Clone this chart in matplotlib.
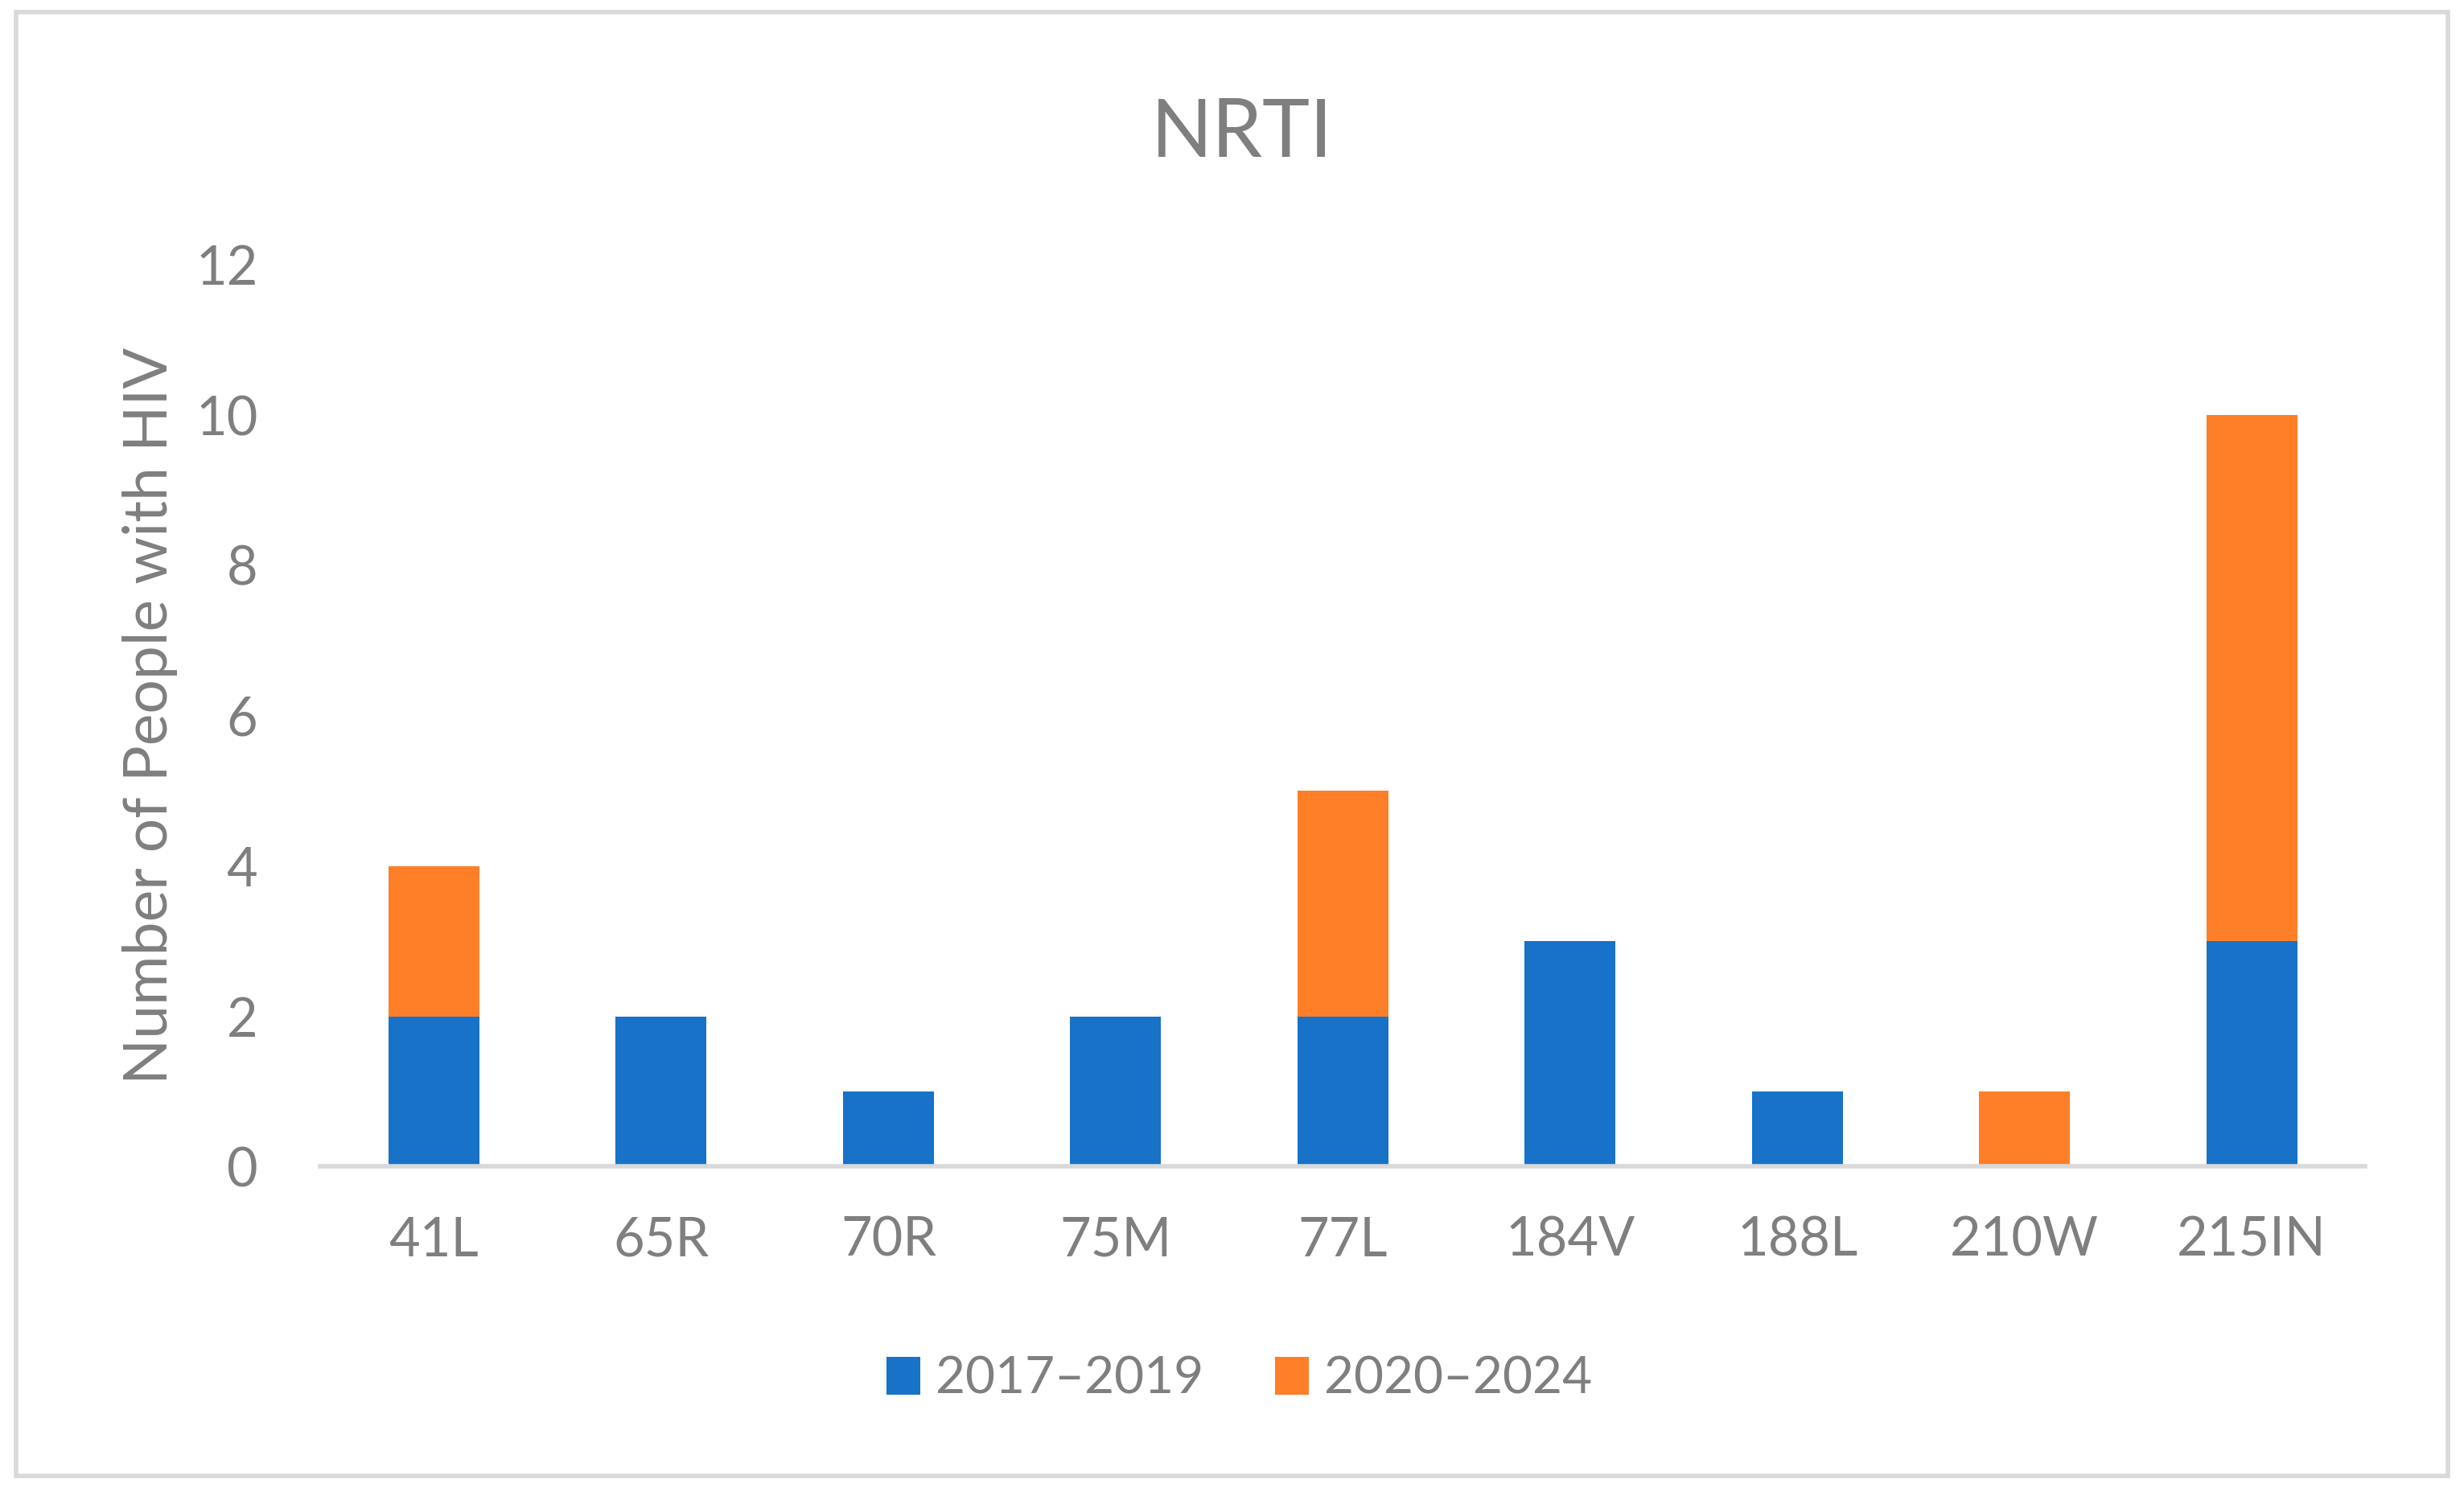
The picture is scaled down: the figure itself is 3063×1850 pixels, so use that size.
import matplotlib.pyplot as plt
from matplotlib.patches import Rectangle
import numpy as np

plt.rcParams['font.family'] = ['Lato', 'DejaVu Sans']

# data
mutations = ['41L', '65R', '70R', '75M', '77L', '184V', '188L', '210W', '215IN']
early = [2, 2, 1, 2, 2, 3, 1, 0, 3]   # 2017–2019
late = [2, 0, 0, 0, 3, 0, 0, 1, 7]    # 2020–2024
series_names = ['2017\u20132019', '2020\u20132024']

blue = '#1772C8'
orange = '#FE7F27'
grey = '#7F7F7F'

fig = plt.figure(figsize=(15.315, 9.25), dpi=200)
ax = fig.add_axes([0.130, 0.216, 0.830, 0.606])

x = np.arange(len(mutations))
ax.bar(x, early, width=0.4, color=blue, label=series_names[0])
ax.bar(x, late, width=0.4, bottom=early, color=orange, label=series_names[1])

ax.set_xlim(-0.5, len(mutations) - 0.5)
ax.set_ylim(0, 12)
ax.set_yticks(range(0, 13, 2))
ax.set_xticks(x)
ax.set_xticklabels(mutations)
ax.tick_params(length=0, labelsize=24, colors=grey)
ax.tick_params(axis='x', pad=22)
ax.tick_params(axis='y', pad=28)

for s in ['top', 'right', 'left']:
    ax.spines[s].set_visible(False)
ax.spines['bottom'].set_color('#D9D9D9')
ax.spines['bottom'].set_linewidth(2)

ax.set_ylabel('Number of People with HIV', fontsize=27, color=grey, labelpad=8)
fig.text(0.504, 0.91, 'NRTI', ha='center', va='center', fontsize=36, color=grey)

leg = fig.legend(loc='center', bbox_to_anchor=(0.503, 0.073), ncol=2, frameon=False,
                 fontsize=23, handlelength=0.65, handleheight=0.75, columnspacing=1.4,
                 handletextpad=0.3)
for t in leg.get_texts():
    t.set_color(grey)

fig.patches.append(Rectangle((0.0065, 0.008), 0.987, 0.984, transform=fig.transFigure,
                             fill=False, edgecolor='#D9D9D9', linewidth=2))

fig.savefig('out.png', dpi=200, facecolor='white')
